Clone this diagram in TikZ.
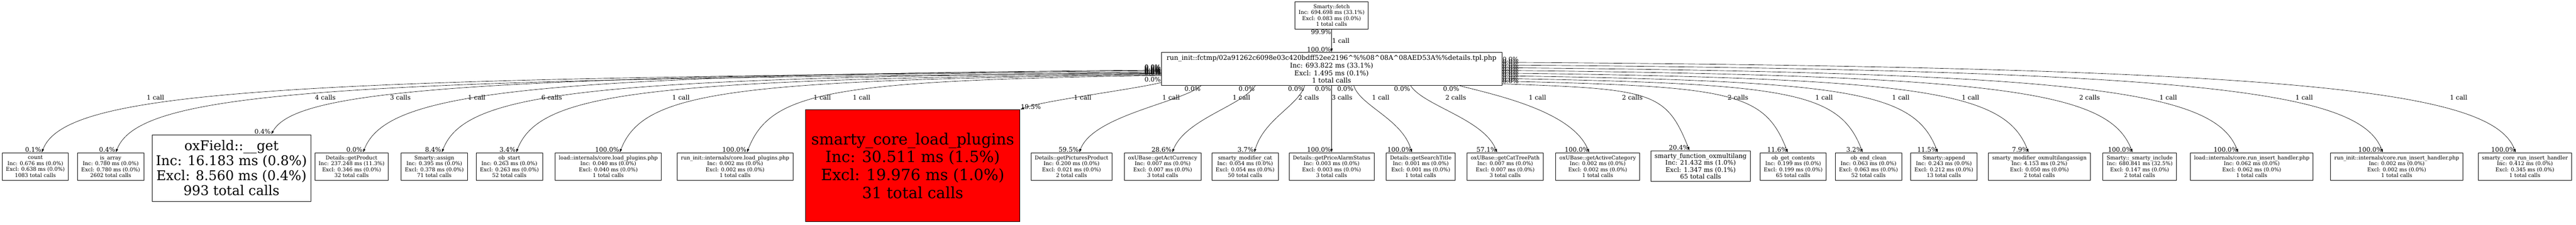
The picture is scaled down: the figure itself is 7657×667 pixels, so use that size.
\documentclass[tikz,border=0pt]{standalone}
\usepackage{fontspec}
\setmainfont{DejaVu Serif}
\usetikzlibrary{positioning,arrows.meta}
\begin{document}
\begin{tikzpicture}[x=1pt, y=1pt,
    func/.style = {draw, line width=1.3pt, align=center, anchor=north, inner xsep=11pt, minimum height=81pt, font=\fontsize{15.6}{17.7}\selectfont},
    bigfunc/.style = {func, font=\fontsize{39.8}{44.5}\selectfont, minimum width=469pt, minimum height=198pt},
    hotfunc/.style = {func, fill=red, font=\fontsize{46}{53}\selectfont, minimum width=638pt, minimum height=332pt},
    midfunc/.style = {func, font=\fontsize{18.6}{20.6}\selectfont, minimum height=91pt},
    hubfunc/.style = {func, font=\fontsize{19.7}{22.7}\selectfont, minimum width=1012pt, minimum height=98pt},
    calls/.style = {-{Latex[length=11pt,width=7pt]}, line width=1pt},
    lbl/.style = {font=\fontsize{18.8}{20}\selectfont, inner sep=1pt}]
    \useasboundingbox (0,0) rectangle (7657,667);

    \node[func, minimum height=80pt] (0) at (3958,662) {Smarty::fetch\\Inc: 694.698 ms (33.1\%)\\Excl: 0.083 ms (0.0\%)\\1 total calls};
    \node[hubfunc] (1) [below=69pt of 0] {run\_init::fctmp/02a91262c6098e03c420bdff52ee2196\textasciicircum\%\%08\textasciicircum 08A\textasciicircum 08AED53A\%\%details.tpl.php\\Inc: 693.822 ms (33.1\%)\\Excl: 1.495 ms (0.1\%)\\1 total calls};

    \node[func] (2) at (105,214) {count\\Inc: 0.676 ms (0.0\%)\\Excl: 0.638 ms (0.0\%)\\1083 total calls};
    \node[func] (3) at (329,214) {is\_array\\Inc: 0.780 ms (0.0\%)\\Excl: 0.780 ms (0.0\%)\\2602 total calls};
    \node[bigfunc] (4) at (688,268) {oxField::\_\_get\\Inc: 16.183 ms (0.8\%)\\Excl: 8.560 ms (0.4\%)\\993 total calls};
    \node[func] (5) at (1045,214) {Details::getProduct\\Inc: 237.248 ms (11.3\%)\\Excl: 0.346 ms (0.0\%)\\32 total calls};
    \node[func] (6) at (1291,214) {Smarty::assign\\Inc: 0.395 ms (0.0\%)\\Excl: 0.378 ms (0.0\%)\\71 total calls};
    \node[func] (7) at (1514,214) {ob\_start\\Inc: 0.263 ms (0.0\%)\\Excl: 0.263 ms (0.0\%)\\52 total calls};
    \node[func] (8) at (1808,214) {load::internals/core.load\_plugins.php\\Inc: 0.040 ms (0.0\%)\\Excl: 0.040 ms (0.0\%)\\1 total calls};
    \node[func] (9) at (2185,214) {run\_init::internals/core.load\_plugins.php\\Inc: 0.002 ms (0.0\%)\\Excl: 0.002 ms (0.0\%)\\1 total calls};
    \node[hotfunc] (10) at (2713,342) {smarty\_core\_load\_plugins\\Inc: 30.511 ms (1.5\%)\\Excl: 19.976 ms (1.0\%)\\31 total calls};
    \node[func] (11) at (3185,214) {Details::getPicturesProduct\\Inc: 0.200 ms (0.0\%)\\Excl: 0.021 ms (0.0\%)\\2 total calls};
    \node[func] (12) at (3456,214) {oxUBase::getActCurrency\\Inc: 0.007 ms (0.0\%)\\Excl: 0.007 ms (0.0\%)\\3 total calls};
    \node[func] (13) at (3701,214) {smarty\_modifier\_cat\\Inc: 0.054 ms (0.0\%)\\Excl: 0.054 ms (0.0\%)\\50 total calls};
    \node[func] (14) at (3958,214) {Details::getPriceAlarmStatus\\Inc: 0.003 ms (0.0\%)\\Excl: 0.003 ms (0.0\%)\\3 total calls};
    \node[func] (15) at (4223,214) {Details::getSearchTitle\\Inc: 0.001 ms (0.0\%)\\Excl: 0.001 ms (0.0\%)\\1 total calls};
    \node[func] (16) at (4474,214) {oxUBase::getCatTreePath\\Inc: 0.007 ms (0.0\%)\\Excl: 0.007 ms (0.0\%)\\3 total calls};
    \node[func] (17) at (4749,214) {oxUBase::getActiveCategory\\Inc: 0.002 ms (0.0\%)\\Excl: 0.002 ms (0.0\%)\\1 total calls};
    \node[midfunc] (18) at (5055,220) {smarty\_function\_oxmultilang\\Inc: 21.432 ms (1.0\%)\\Excl: 1.347 ms (0.1\%)\\65 total calls};
    \node[func] (19) at (5330,214) {ob\_get\_contents\\Inc: 0.199 ms (0.0\%)\\Excl: 0.199 ms (0.0\%)\\65 total calls};
    \node[func] (20) at (5554,214) {ob\_end\_clean\\Inc: 0.063 ms (0.0\%)\\Excl: 0.063 ms (0.0\%)\\52 total calls};
    \node[func] (21) at (5778,214) {Smarty::append\\Inc: 0.243 ms (0.0\%)\\Excl: 0.212 ms (0.0\%)\\13 total calls};
    \node[func] (22) at (6062,214) {smarty\_modifier\_oxmultilangassign\\Inc: 4.153 ms (0.2\%)\\Excl: 0.050 ms (0.0\%)\\2 total calls};
    \node[func] (23) at (6360,214) {Smarty::\_smarty\_include\\Inc: 680.841 ms (32.5\%)\\Excl: 0.147 ms (0.0\%)\\2 total calls};
    \node[func] (24) at (6693,214) {load::internals/core.run\_insert\_handler.php\\Inc: 0.062 ms (0.0\%)\\Excl: 0.062 ms (0.0\%)\\1 total calls};
    \node[func] (25) at (7124,214) {run\_init::internals/core.run\_insert\_handler.php\\Inc: 0.002 ms (0.0\%)\\Excl: 0.002 ms (0.0\%)\\1 total calls};
    \node[func] (26) at (7505,214) {smarty\_core\_run\_insert\_handler\\Inc: 0.412 ms (0.0\%)\\Excl: 0.345 ms (0.0\%)\\1 total calls};

    \draw[calls] (0) -- (1) node[lbl, pos=0, anchor=north east] {99.9\%} node[lbl, midway, right] {1 call} node[lbl, pos=1, anchor=south east] {100.0\%};

    \draw[calls] ([yshift=-9pt]1.west) .. controls +(-2662,-15) and +(70,181) .. ([xshift=19pt]2.north) node[lbl, pos=0, anchor=south east] {0.0\%} node[lbl, pos=1, anchor=south east] {0.1\%} node[lbl] at (462,377) {1 call};
    \draw[calls] ([yshift=-13pt]1.west) .. controls +(-2486,-15) and +(70,181) .. ([xshift=15pt]3.north) node[lbl, pos=0, anchor=south east] {0.0\%} node[lbl, pos=1, anchor=south east] {0.4\%} node[lbl] at (2444,377) {1 call};
    \draw[calls] ([yshift=-5pt]1.west) .. controls +(-2116,-15) and +(70,127) .. ([xshift=118pt]4.north) node[lbl, pos=0, anchor=south east] {0.0\%} node[lbl, pos=1, anchor=south east] {0.4\%} node[lbl] at (967,377) {4 calls};
    \draw[calls] ([yshift=-3pt]1.west) .. controls +(-1898,-15) and +(70,181) .. ([xshift=34pt]5.north) node[lbl, pos=0, anchor=south east] {0.0\%} node[lbl, pos=1, anchor=south east] {0.0\%} node[lbl] at (1190,377) {3 calls};
    \draw[calls] ([yshift=-11pt]1.west) .. controls +(-1710,-15) and +(70,181) .. ([xshift=22pt]6.north) node[lbl, pos=0, anchor=south east] {0.0\%} node[lbl, pos=1, anchor=south east] {8.4\%} node[lbl] at (1417,377) {1 call};
    \draw[calls] ([yshift=-15pt]1.west) .. controls +(-1534,-15) and +(70,181) .. ([xshift=20pt]7.north) node[lbl, pos=0, anchor=south east] {0.0\%} node[lbl, pos=1, anchor=south east] {3.4\%} node[lbl] at (1640,377) {6 calls};
    \draw[calls] ([yshift=-17pt]1.west) .. controls +(-1287,-15) and +(70,181) .. ([xshift=34pt]8.north) node[lbl, pos=0, anchor=south east] {0.0\%} node[lbl, pos=1, anchor=south east] {100.0\%} node[lbl] at (2024,377) {1 call};
    \draw[calls] ([yshift=-19pt]1.west) .. controls +(-985,-15) and +(70,181) .. ([xshift=35pt]9.north) node[lbl, pos=0, anchor=south east] {0.0\%} node[lbl, pos=1, anchor=south east] {100.0\%} node[lbl] at (2561,377) {1 call};
    \draw[calls] ([yshift=-40pt]1.west) .. controls +(-80,-20) and +(60,25) .. (10.north east) node[lbl, pos=0, anchor=south east] {0.0\%} node[lbl, pos=1, anchor=south west] {19.5\%} node[lbl] at (3218,377) {1 call};

    \draw[calls] ([xshift=-388pt]1.south) .. controls +(-60,-50) and +(40,110) .. ([xshift=23pt]11.north) node[lbl, pos=0, anchor=north east] {0.0\%} node[lbl, pos=1, anchor=south east] {59.5\%} node[lbl] at (3481,377) {1 call};
    \draw[calls] ([xshift=-227pt]1.south) .. controls +(-40,-60) and +(40,100) .. ([xshift=28pt]12.north) node[lbl, pos=0, anchor=north east] {0.0\%} node[lbl, pos=1, anchor=south east] {28.6\%} node[lbl] at (3690,377) {1 call};
    \draw[calls] ([xshift=-80pt]1.south) .. controls +(-20,-60) and +(30,100) .. ([xshift=27pt]13.north) node[lbl, pos=0, anchor=north east] {0.0\%} node[lbl, pos=1, anchor=south east] {3.7\%} node[lbl] at (3890,377) {2 calls};
    \draw[calls] (1.south) -- (14.north) node[lbl, pos=0, anchor=north east] {0.0\%} node[lbl, pos=1, anchor=south east] {100.0\%} node[lbl] at (3989,377) {3 calls};
    \draw[calls] ([xshift=66pt]1.south) .. controls +(20,-60) and +(-30,100) .. ([xshift=-26pt]15.north) node[lbl, pos=0, anchor=north east] {0.0\%} node[lbl, pos=1, anchor=south east] {100.0\%} node[lbl] at (4104,377) {1 call};
    \draw[calls] ([xshift=235pt]1.south) .. controls +(40,-60) and +(-40,100) .. ([xshift=-24pt]16.north) node[lbl, pos=0, anchor=north east] {0.0\%} node[lbl, pos=1, anchor=south east] {57.1\%} node[lbl] at (4327,377) {2 calls};
    \draw[calls] ([xshift=381pt]1.south) .. controls +(120,-30) and +(-50,120) .. ([xshift=-25pt]17.north) node[lbl, pos=0, anchor=north east] {0.0\%} node[lbl, pos=1, anchor=south east] {100.0\%} node[lbl] at (4570,377) {1 call};

    \draw[calls] ([yshift=-44pt]1.east) .. controls +(447,-15) and +(-70,175) .. ([xshift=-33pt]18.north) node[lbl, pos=0, anchor=south west] {0.0\%} node[lbl, pos=1, anchor=south east] {20.4\%} node[lbl] at (4852,377) {2 calls};
    \draw[calls] ([yshift=-36pt]1.east) .. controls +(681,-15) and +(-70,181) .. ([xshift=-16pt]19.north) node[lbl, pos=0, anchor=south west] {0.0\%} node[lbl, pos=1, anchor=south east] {11.6\%} node[lbl] at (5166,377) {2 calls};
    \draw[calls] ([yshift=-28pt]1.east) .. controls +(859,-15) and +(-70,181) .. ([xshift=-17pt]20.north) node[lbl, pos=0, anchor=south west] {0.0\%} node[lbl, pos=1, anchor=south east] {3.2\%} node[lbl] at (5422,377) {1 call};
    \draw[calls] ([yshift=-20pt]1.east) .. controls +(1038,-15) and +(-70,181) .. ([xshift=-18pt]21.north) node[lbl, pos=0, anchor=south west] {0.0\%} node[lbl, pos=1, anchor=south east] {11.5\%} node[lbl] at (5650,377) {1 call};
    \draw[calls] ([yshift=-12pt]1.east) .. controls +(1254,-15) and +(-70,181) .. ([xshift=-32pt]22.north) node[lbl, pos=0, anchor=south west] {0.0\%} node[lbl, pos=1, anchor=south east] {7.9\%} node[lbl] at (5857,377) {1 call};
    \draw[calls] ([yshift=-4pt]1.east) .. controls +(1501,-15) and +(-70,181) .. ([xshift=-21pt]23.north) node[lbl, pos=0, anchor=south west] {0.0\%} node[lbl, pos=1, anchor=south east] {100.0\%} node[lbl] at (6211,377) {2 calls};
    \draw[calls] ([yshift=4pt]1.east) .. controls +(1752,-15) and +(-70,181) .. ([xshift=-40pt]24.north) node[lbl, pos=0, anchor=south west] {0.0\%} node[lbl, pos=1, anchor=south east] {100.0\%} node[lbl] at (6445,377) {1 call};
    \draw[calls] ([yshift=12pt]1.east) .. controls +(2096,-15) and +(-70,181) .. ([xshift=-41pt]25.north) node[lbl, pos=0, anchor=south west] {0.0\%} node[lbl, pos=1, anchor=south east] {100.0\%} node[lbl] at (6849,377) {1 call};
    \draw[calls] ([yshift=20pt]1.east) .. controls +(2412,-15) and +(-70,181) .. ([xshift=-27pt]26.north) node[lbl, pos=0, anchor=south west] {0.0\%} node[lbl, pos=1, anchor=south east] {100.0\%} node[lbl] at (7308,377) {1 call};
\end{tikzpicture}
\end{document}
